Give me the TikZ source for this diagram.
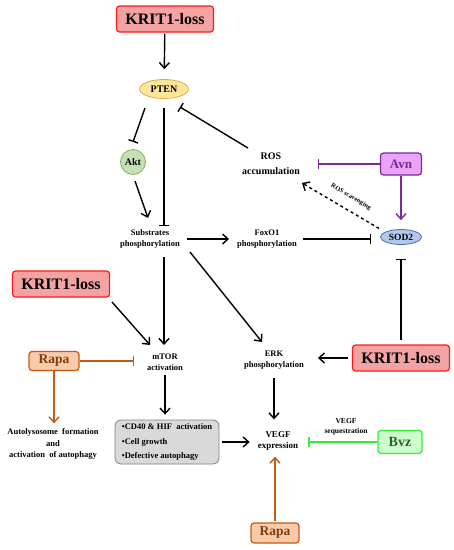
\documentclass[tikz,border=0pt]{standalone}
\usepackage{fontspec}
\setmainfont{Liberation Serif}
\usepackage{tikz}
\usetikzlibrary{arrows.meta,positioning,shapes.geometric,calc}

\definecolor{krfill}{HTML}{F4A3A3}
\definecolor{krline}{HTML}{FF1A1A}
\definecolor{rapafill}{HTML}{F8CBAD}
\definecolor{rapaline}{HTML}{C55A11}
\definecolor{rapatext}{HTML}{843C0C}
\definecolor{avnfill}{HTML}{EBA3F5}
\definecolor{avnline}{HTML}{7A2A9A}
\definecolor{bvzfill}{HTML}{CCFFCC}
\definecolor{bvzline}{HTML}{33EE33}
\definecolor{bvztext}{HTML}{2F5F2F}
\definecolor{ptenfill}{HTML}{FFE699}
\definecolor{ptenline}{HTML}{D6B040}
\definecolor{aktfill}{HTML}{C5E0B4}
\definecolor{aktline}{HTML}{7FAF5F}
\definecolor{sodfill}{HTML}{B4C7E7}
\definecolor{sodline}{HTML}{4472C4}
\definecolor{cellfill}{HTML}{D9D9D9}
\definecolor{cellline}{HTML}{808080}

\begin{document}
\begin{tikzpicture}[x=1pt, y=-1pt,
    every node/.style={font=\bfseries},
    txt/.style={align=center, inner sep=0pt, font=\fontsize{8.5}{11}\selectfont\bfseries},
    drug/.style={draw, rounded corners=3pt, line width=1.2pt, inner sep=0pt},
    krit/.style={drug, draw=krline, fill=krfill, minimum width=97pt, minimum height=26pt,
                 font=\fontsize{16}{18}\selectfont\bfseries},
    act/.style={-{Straight Barb[length=5.5pt,width=10pt,line width=1.4pt]}, line width=1.4pt},
    inh/.style={-{Bar[width=10pt,line width=1.4pt]}, line width=1.4pt},
    ]
    \useasboundingbox (0,0) rectangle (454,550);

    % top part
    \node[krit] (krita) at (165,19) {KRIT1-loss};
    \node[ellipse, draw=ptenline, fill=ptenfill, line width=0.8pt, minimum width=49pt, minimum height=19pt,
          inner sep=0pt, font=\fontsize{10}{12}\selectfont\bfseries] (pten) at (164,89) {PTEN};
    \node[circle, draw=aktline, fill=aktfill, line width=0.8pt, minimum size=25pt, inner sep=0pt,
          font=\fontsize{10}{12}\selectfont\bfseries] (akt) at (133,162) {Akt};
    \node[txt] (subs) at (150,239) {Substrates\\phosphorylation};
    \node[txt, font=\fontsize{10}{15}\selectfont\bfseries] (ros) at (271,164) {ROS\\accumulation};
    \node[drug, draw=avnline, fill=avnfill, text=avnline, minimum width=41pt, minimum height=22pt,
          font=\fontsize{13}{15}\selectfont\bfseries] (avn) at (401,164) {Avn};
    \node[ellipse, draw=sodline, fill=sodfill, line width=0.8pt, minimum width=41pt, minimum height=15pt,
          inner sep=0pt, font=\fontsize{9.5}{11}\selectfont\bfseries] (sod) at (401,237) {SOD2};
    \node[txt] (foxo) at (267,239) {FoxO1\\phosphorylation};
    \node[rotate=-30.5, inner sep=0pt, font=\fontsize{6.5}{7}\selectfont\bfseries] (scav) at (351,197) {ROS scavenging};

    % middle part
    \node[krit] (kritb) at (61,284) {KRIT1-loss};
    \node[krit] (kritc) at (401,358) {KRIT1-loss};
    \node[txt] (erk) at (274,360) {ERK\\phosphorylation};
    \node[txt] (mtor) at (165,362) {mTOR\\activation};
    \node[drug, draw=rapaline, fill=rapafill, text=rapatext, minimum width=50pt, minimum height=19pt,
          font=\fontsize{13.5}{15}\selectfont\bfseries] (rapaa) at (54,361) {Rapa};

    % bottom part
    \node[txt, font=\fontsize{8.5}{11.5}\selectfont\bfseries] (auto) at (53,444)
        {Autolysosome~~formation\\and\\activation~~of autophagy};
    \node[draw=cellline, fill=cellfill, line width=0.8pt, rounded corners=6pt, minimum width=104pt,
          minimum height=44pt, align=left, inner sep=0pt,
          font=\fontsize{8.5}{14.5}\selectfont\bfseries] (cell) at (167,442)
        {•CD40 \& HIF~~activation\\•Cell growth\\•Defective autophagy};
    \node[txt, font=\fontsize{9}{11}\selectfont\bfseries] (vegf) at (278,441) {VEGF\\expression};
    \node[drug, draw=bvzline, fill=bvzfill, text=bvztext, minimum width=44pt, minimum height=23pt,
          font=\fontsize{14}{16}\selectfont\bfseries] (bvz) at (400,442) {Bvz};
    \node[txt, font=\fontsize{7.5}{10}\selectfont\bfseries] (seq) at (346,427) {VEGF\\sequestration};
    \node[drug, draw=rapaline, fill=rapafill, text=rapatext, minimum width=48pt, minimum height=20pt,
          font=\fontsize{13.5}{15}\selectfont\bfseries] (rapab) at (275,533) {Rapa};

    % connectors
    \draw[act, shorten <=1pt, shorten >=10pt] (krita) -- (pten);
    \draw[inh] ($(pten)+(-19,19)$) -- ($(akt)+(0,-20)$);
    \draw[inh] ($(pten)+(0,19)$) -- ($(pten)+(0,137)$);
    \draw[act] ($(akt)+(2,19)$) -- ($(subs)+(-2,-21)$);
    \draw[inh] ($(ros)+(-23,-16)$) -- ($(pten)+(16,18)$);
    \draw[inh, avnline] (avn.west) -- ++(-62,0);
    \draw[act, avnline, shorten >=9pt] (avn.south) -- (sod.north);
    \draw[act, dashed, shorten <=1pt] ($(sod)+(-21,-8)$) -- ($(ros)+(31,19)$);
    \draw[act, shorten <=7pt, shorten >=8pt] (subs.east) -- (foxo.west);
    \draw[inh, shorten <=6pt, shorten >=9pt] (foxo.east) -- (foxo.east -| sod.west);
    \draw[inh, shorten <=4pt, shorten >=14pt] (kritc.north) -- (sod.south);
    \draw[act, shorten <=4pt, shorten >=14pt] (kritc.west) -- (kritc.west -| erk.east);
    \draw[act] ($(subs)+(40,13)$) -- ($(erk)+(-12,-18)$);
    \draw[act] ($(subs)+(14,18)$) -- ($(mtor)+(-1,-17)$);
    \draw[act] ($(kritb)+(51,18)$) -- ($(mtor)+(-15,-17)$);
    \draw[inh, rapaline] (rapaa.east) -- ($(mtor)+(-31,-1)$);
    \draw[act, rapaline, shorten >=5pt] (rapaa.south) -- (rapaa.south |- auto.north);
    \draw[act, shorten <=4pt, shorten >=5pt] (mtor.south) -- (cell.north -| mtor.south);
    \draw[act, shorten <=3pt, shorten >=8pt] (cell.east) -- (cell.east -| vegf.west);
    \draw[act, shorten <=9pt, shorten >=12pt] (erk.south) -- (erk.south |- vegf.north);
    \draw[inh, bvzline] (bvz.west) -- ++(-69,0);
    \draw[act, rapaline, shorten <=1pt, shorten >=6pt] (rapab.north) -- (rapab.north |- vegf.south);
\end{tikzpicture}
\end{document}
